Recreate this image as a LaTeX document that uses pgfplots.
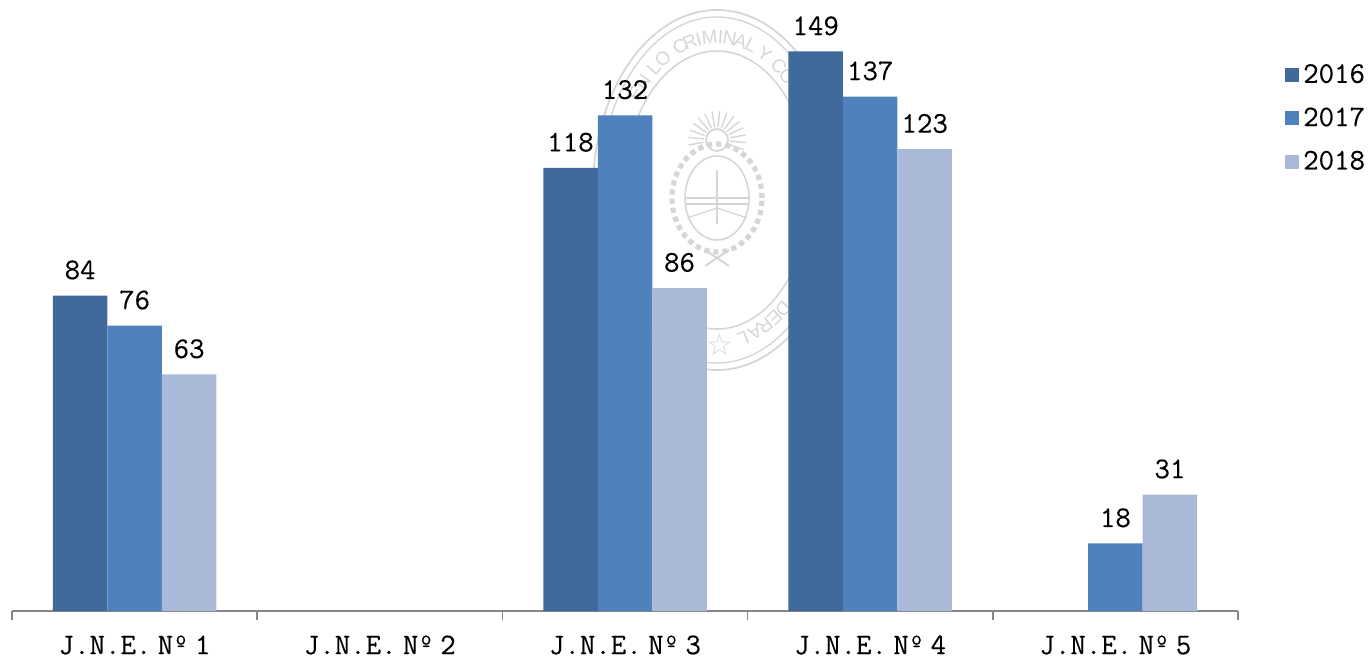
\documentclass[border=0pt]{standalone}
\usepackage{fontspec}
\setmonofont{Latin Modern Mono}[FakeBold=0.25]
\usepackage{pgfplots}
\pgfplotsset{compat=1.18}
\newfontfamily\sealfont{Liberation Sans}
\newfontfamily\starfont{DejaVu Sans}
\definecolor{cA}{HTML}{416A9C}
\definecolor{cB}{HTML}{4F81BD}
\definecolor{cC}{HTML}{AAB9D7}
\definecolor{axisgray}{HTML}{868686}
\definecolor{seal}{HTML}{D6D6D6}
\newcommand{\chartfont}{\ttfamily\fontsize{15}{16}\selectfont}
\newcommand{\jne}[1]{J.N.E.\hspace{3.2pt}Nº\hspace{3.2pt}#1}
\begin{document}
\begin{tikzpicture}
% watermark seal (centre at pixel 717,190 of the reference)
\begin{scope}[shift={(352.5pt,210.5pt)},seal]
 \draw[line width=0.9pt] (0,0) ellipse [x radius=62pt,y radius=90pt];
 \draw[line width=0.7pt] (0,0) ellipse [x radius=58.5pt,y radius=86.5pt];
 \draw[line width=0.8pt] (0,0) ellipse [x radius=46.5pt,y radius=69.5pt];
 \foreach \t/\c in {141/E,135/N,127/L,121/O,110.7/C,105/R,100/I,94/M,88/I,83/N,77/A,71/L,63/Y,54/C,48/O,-75.5/L,-68.8/A,-62.8/R,-56.5/E,-51/D}{
   \pgfmathsetmacro{\rot}{atan2(-76.5*cos(\t),52.5*sin(\t))}
   \node[text=seal,inner sep=0pt,rotate=\rot,font=\sealfont\fontsize{9.5}{10}\selectfont] at ({52.5pt*cos(\t)},{76.5pt*sin(\t)}) {\c};
 }
 \node[text=seal,inner sep=0pt,font=\starfont\fontsize{15}{15}\selectfont] at (1.5pt,-77.5pt) {☆};
 % crest
 \begin{scope}[yshift=-4pt]
  \draw[line width=2.6pt,dotted] (0,0) ellipse [x radius=22.5pt,y radius=27pt];
  \draw[line width=0.8pt] (0,0) ellipse [x radius=16pt,y radius=21pt];
  \draw[line width=0.7pt] (-16pt,0pt) -- (16pt,0pt);
  \draw[line width=0.7pt] (-16pt,-3pt) -- (16pt,-3pt);
  \draw[line width=0.7pt] (-15pt,-10pt) -- (0,-5pt) -- (15pt,-10pt);
  \draw[line width=1.2pt] (0,14pt) -- (0,-13pt);
  \draw[line width=1pt] (-6pt,-26pt) -- (6pt,-34pt) (6pt,-26pt) -- (-6pt,-34pt);
  \foreach \a in {-20,-5,...,200}
    \draw[line width=0.7pt] (0,29pt) ++(\a:6.5pt) -- ++(\a:8pt);
  \draw[line width=0.9pt] (0,29pt) circle (5.5pt);
 \end{scope}
\end{scope}
\begin{axis}[
  scale only axis,width=613pt,height=305.5pt,
  ybar=0pt,bar width=27.25pt,
  xmin=-0.5,xmax=4.5,ymin=0,ymax=162.7,
  axis y line=none,axis x line=bottom,
  axis line style={-,axisgray,line width=0.8pt},
  xtick={0,1,2,3,4},
  xticklabels={\jne{1},\jne{2},\jne{3},\jne{4},\jne{5}},
  major tick length=0pt,
  minor xtick={-0.5,0.5,1.5,2.5,3.5,4.5},
  minor tick length=4.5pt,
  tick align=outside,
  every tick/.style={axisgray,line width=0.8pt},
  xticklabel style={font=\chartfont,text=black,anchor=center,yshift=-17pt},
  /pgf/number format/assume math mode=true,
  nodes near coords,
  every node near coord/.append style={font=\chartfont,text=black,yshift=4.5pt},
  legend cell align=left,
  legend style={draw=none,fill=none,font=\chartfont,at={(1.0385,0.9016)},anchor=north west,
    row sep=6.8pt,inner sep=0pt,outer sep=0pt,
    /tikz/every even column/.append style={column sep=0pt}},
  legend image code/.code={\fill[#1] (0pt,-3.5pt) rectangle (7pt,3.5pt);},
  clip=false,
]
\addplot[draw=none,fill=cA] coordinates {(0,84) (2,118) (3,149)};
\addplot[draw=none,fill=cB] coordinates {(0,76) (2,132) (3,137) (4,18)};
\addplot[draw=none,fill=cC] coordinates {(0,63) (2,86) (3,123) (4,31)};
\legend{2016,2017,2018}
\end{axis}
\path[use as bounding box] (-6pt,-23pt) rectangle (679.5pt,305.5pt);
\end{tikzpicture}
\end{document}
